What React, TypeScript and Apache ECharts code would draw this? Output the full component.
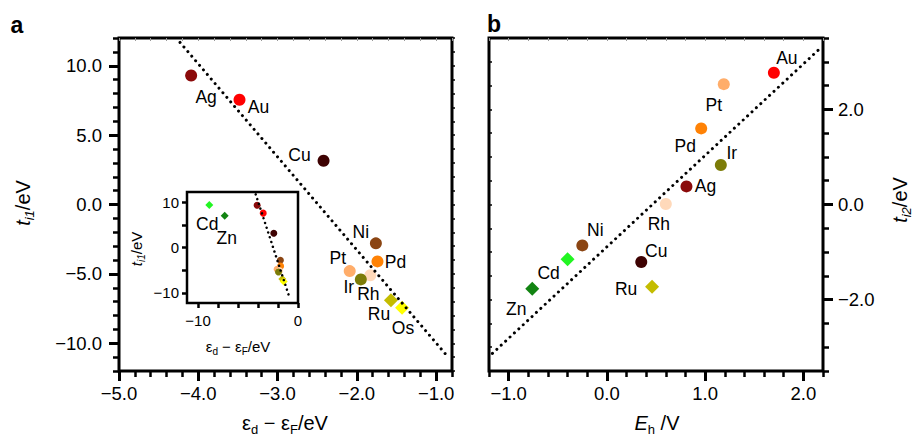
import React, { useEffect, useRef } from 'react';
import * as echarts from 'echarts';

// ---------- data ----------
const ELEMENTS_A = ['Ag', 'Au', 'Cu', 'Ni', 'Pd', 'Pt', 'Rh', 'Ir', 'Ru', 'Os'];
const ED_A = [-4.09, -3.48, -2.42, -1.76, -1.74, -2.09, -1.83, -1.95, -1.57, -1.43];
const T1_A = [9.3, 7.55, 3.15, -2.8, -4.1, -4.8, -5.1, -5.4, -6.9, -7.45];

const ELEMENTS_INSET_EXTRA = ['Cd', 'Zn'];
const ED_INSET_EXTRA = [-8.87, -7.33];
const T1_INSET_EXTRA = [9.35, 7.0];

const FIT_A_X = [-4.23, -0.85];
const FIT_A_Y = [11.68, -10.99];

const ELEMENTS_B = ['Au', 'Pt', 'Pd', 'Ir', 'Ag', 'Rh', 'Ni', 'Cd', 'Zn', 'Cu', 'Ru'];
const EH_B = [1.7, 1.19, 0.96, 1.16, 0.81, 0.6, -0.25, -0.4, -0.76, 0.35, 0.46];
const T2_B = [2.77, 2.53, 1.6, 0.83, 0.38, 0.01, -0.86, -1.15, -1.77, -1.21, -1.73];

const FIT_B_X = [-1.165, 2.175];
const FIT_B_Y = [-3.13, 3.29];

const TICKS_A_X = [-5, -4, -3, -2, -1];
const TICKS_A_Y = [-10, -5, 0, 5, 10];
const TICKS_B_X = [-1, 0, 1, 2];
const TICKS_B_Y = [-2, 0, 2];
const TICKS_INSET_X = [-10, -8, -6, -4, -2, 0];
const LABELS_INSET_X = [-10, 0];
const TICKS_INSET_Y = [-10, -5, 0, 5, 10];
const LABELS_INSET_Y = [-10, 0, 10];

// ---------- styles ----------
const COLORS: Record<string, string> = {
  Ag: '#8B0A0A',
  Au: '#FF0000',
  Cu: '#3E0202',
  Ni: '#8B4513',
  Pd: '#FF8205',
  Pt: '#FFAD6A',
  Rh: '#FFD9BA',
  Ir: '#7C7C08',
  Ru: '#C4BC00',
  Os: '#FFFF00',
  Cd: '#22F522',
  Zn: '#128412',
};
const DIAMONDS = new Set(['Ru', 'Os', 'Cd', 'Zn']);

const LABEL_A: Record<string, [number, number]> = {
  Ag: [15, 22], Au: [19, 7], Cu: [-24, -6], Ni: [-15, -11], Pd: [18, 1],
  Pt: [-12, -13], Ir: [-12, 8], Rh: [-2, 19], Ru: [-12, 14], Os: [1, 20],
};
const LABEL_INSET: Record<string, [number, number]> = { Cd: [-2, 19], Zn: [2, 22] };
const LABEL_B: Record<string, [number, number]> = {
  Au: [13, -15], Pt: [-10, 21], Pd: [-16, 18], Ir: [11, -12], Ag: [19, 0],
  Rh: [-7, 20], Ni: [13, -15], Cd: [-19, 14], Zn: [-16, 20], Cu: [15, -11], Ru: [-26, 2],
};

const FONT = '"Liberation Sans", Arial, Helvetica, sans-serif';
const MINUS = '\u2212';

function steps(a: number, b: number, s: number): number[] {
  const out: number[] = [];
  const n = Math.round((b - a) / s);
  for (let i = 0; i <= n; i++) out.push(Math.round((a + i * s) * 1000) / 1000);
  return out;
}
const fmt1 = (v: number) => (v < 0 ? MINUS : '') + Math.abs(v).toFixed(1);
const fmt0 = (v: number) => (v < 0 ? MINUS : '') + Math.abs(v).toFixed(0);

function axis(o: {
  grid: number; pos: string; min: number; max: number;
  ticks: number[]; len: number; width?: number; color?: string; inside?: boolean;
  labels?: number[]; fmt?: (v: number) => string; fontSize?: number; margin?: number;
}) {
  return {
    type: 'value',
    gridIndex: o.grid,
    position: o.pos,
    min: o.min,
    max: o.max,
    axisLine: { show: false, onZero: false },
    splitLine: { show: false },
    axisTick: {
      show: true,
      customValues: o.ticks,
      length: o.len,
      inside: !!o.inside,
      lineStyle: { color: o.color || '#000', width: o.width || 2.5 },
    },
    axisLabel: o.labels
      ? {
          show: true,
          customValues: o.labels,
          formatter: o.fmt,
          fontSize: o.fontSize || 18.5,
          fontFamily: FONT,
          color: '#000',
          margin: o.margin ?? 13,
        }
      : { show: false },
  };
}

function points(names: string[], xs: number[], ys: number[], offsets: Record<string, [number, number]>, small: boolean) {
  return names.map((n, i) => {
    const dia = DIAMONDS.has(n);
    const off = offsets[n];
    return {
      name: n,
      value: [xs[i], ys[i]],
      symbol: dia ? 'diamond' : 'circle',
      symbolSize: small ? (dia ? 8 : 7) : dia ? 14 : 12,
      itemStyle: { color: COLORS[n], opacity: 1 },
      label: off
        ? {
            show: true,
            position: 'inside',
            offset: off,
            formatter: n,
            fontSize: 17.5,
            fontFamily: FONT,
            color: '#000',
          }
        : { show: false },
    };
  });
}

function nameText(x: number, y: number, text: string, size: number, sub: number, rot = 0) {
  return {
    type: 'text',
    x,
    y,
    rotation: rot,
    z: 100,
    style: {
      text,
      align: 'center',
      verticalAlign: 'middle',
      fontFamily: FONT,
      fontSize: size,
      fill: '#000',
      rich: {
        n: { fontSize: size, fontFamily: FONT, fill: '#000', lineHeight: size + 5, verticalAlign: 'middle' },
        i: { fontSize: size, fontFamily: FONT, fontStyle: 'italic', fill: '#000', lineHeight: size + 5, verticalAlign: 'middle' },
        s: { fontSize: sub, fontFamily: FONT, fill: '#000', lineHeight: sub, verticalAlign: 'bottom' },
        si: { fontSize: sub, fontFamily: FONT, fontStyle: 'italic', fill: '#000', lineHeight: sub, verticalAlign: 'bottom' },
      },
    },
  };
}

export default function App() {
  const ref = useRef<HTMLDivElement>(null);
  useEffect(() => {
    if (!ref.current) return;
    const chart = echarts.init(ref.current, undefined, { renderer: 'svg' });
    const dotted = (w: number, gap: number) => ({ color: '#000', width: w, type: [0.01, gap], cap: 'round', opacity: 1 });

    const option = {
      animation: false,
      backgroundColor: '#fff',
      textStyle: { fontFamily: FONT },
      grid: [
        { left: 119, top: 38, width: 333, height: 333, show: true, borderColor: '#000', borderWidth: 3, backgroundColor: 'transparent', containLabel: false },
        { left: 489, top: 38, width: 334, height: 333, show: true, borderColor: '#000', borderWidth: 3, backgroundColor: 'transparent', containLabel: false },
        { left: 187, top: 192, width: 111, height: 111, show: true, borderColor: '#000', borderWidth: 2.5, backgroundColor: '#fff', containLabel: false, z: 5 },
      ],
      xAxis: [
        axis({ grid: 0, pos: 'bottom', min: -5, max: -0.8, ticks: TICKS_A_X, len: 10, width: 3, labels: TICKS_A_X, fmt: fmt1, margin: 13 }),
        axis({ grid: 0, pos: 'bottom', min: -5, max: -0.8, ticks: steps(-5, -0.8, 0.2), len: 6 }),
        axis({ grid: 0, pos: 'top', min: -5, max: -0.8, ticks: steps(-5, -0.8, 0.2), len: 3, width: 1, color: '#999', inside: true }),
        axis({ grid: 1, pos: 'bottom', min: -1.2, max: 2.2, ticks: TICKS_B_X, len: 10, width: 3, labels: TICKS_B_X, fmt: fmt1, margin: 13 }),
        axis({ grid: 1, pos: 'bottom', min: -1.2, max: 2.2, ticks: steps(-1.2, 2.2, 0.2), len: 6 }),
        axis({ grid: 1, pos: 'top', min: -1.2, max: 2.2, ticks: steps(-1.2, 2.2, 0.2), len: 3, width: 1, color: '#999', inside: true }),
        axis({ grid: 2, pos: 'bottom', min: -11.1, max: 0, ticks: TICKS_INSET_X, len: 5, width: 2.5, labels: LABELS_INSET_X, fmt: fmt0, fontSize: 15, margin: 10 }),
      ],
      yAxis: [
        axis({ grid: 0, pos: 'left', min: -12, max: 12, ticks: TICKS_A_Y, len: 10, width: 3, labels: TICKS_A_Y, fmt: fmt1, margin: 17 }),
        axis({ grid: 0, pos: 'left', min: -12, max: 12, ticks: steps(-12, 12, 1), len: 6 }),
        axis({ grid: 0, pos: 'right', min: -12, max: 12, ticks: steps(-12, 12, 1), len: 3, width: 1.5 }),
        axis({ grid: 1, pos: 'right', min: -3.5, max: 3.5, ticks: TICKS_B_Y, len: 10, width: 3, labels: TICKS_B_Y, fmt: fmt1, margin: 15 }),
        axis({ grid: 1, pos: 'right', min: -3.5, max: 3.5, ticks: steps(-3.5, 3.5, 0.5), len: 6 }),
        axis({ grid: 1, pos: 'left', min: -3.5, max: 3.5, ticks: steps(-3.5, 3.5, 0.5), len: 3, width: 1.5, inside: true }),
        axis({ grid: 2, pos: 'left', min: -12.2, max: 12.2, ticks: TICKS_INSET_Y, len: 5, width: 2.5, labels: LABELS_INSET_Y, fmt: fmt0, fontSize: 15, margin: 8 }),
      ],
      series: [
        {
          type: 'scatter', xAxisIndex: 0, yAxisIndex: 0, z: 3,
          data: points(ELEMENTS_A, ED_A, T1_A, LABEL_A, false),
        },
        {
          type: 'line', xAxisIndex: 0, yAxisIndex: 0, z: 4, symbol: 'none', showSymbol: false,
          data: FIT_A_X.map((x, i) => [x, FIT_A_Y[i]]),
          lineStyle: dotted(3, 6),
        },
        {
          type: 'scatter', xAxisIndex: 6, yAxisIndex: 6, z: 6,
          data: points(
            [...ELEMENTS_A, ...ELEMENTS_INSET_EXTRA],
            [...ED_A, ...ED_INSET_EXTRA],
            [...T1_A, ...T1_INSET_EXTRA],
            LABEL_INSET,
            true,
          ),
        },
        {
          type: 'line', xAxisIndex: 6, yAxisIndex: 6, z: 7, symbol: 'none', showSymbol: false,
          data: FIT_A_X.map((x, i) => [x, FIT_A_Y[i]]),
          lineStyle: dotted(2.5, 5),
        },
        {
          type: 'scatter', xAxisIndex: 3, yAxisIndex: 3, z: 3,
          data: points(ELEMENTS_B, EH_B, T2_B, LABEL_B, false),
        },
        {
          type: 'line', xAxisIndex: 3, yAxisIndex: 3, z: 4, symbol: 'none', showSymbol: false,
          data: FIT_B_X.map((x, i) => [x, FIT_B_Y[i]]),
          lineStyle: dotted(3, 6),
        },
      ],
      graphic: [
        { type: 'text', x: 17, y: 25, z: 100, style: { text: 'a', fontSize: 23, fontWeight: 'bold', fontFamily: FONT, fill: '#000', align: 'center', verticalAlign: 'middle' } },
        { type: 'text', x: 494, y: 24, z: 100, style: { text: 'b', fontSize: 23, fontWeight: 'bold', fontFamily: FONT, fill: '#000', align: 'center', verticalAlign: 'middle' } },
        nameText(23, 203, '{i|t}{si|i1}{n|/eV}', 20, 13, Math.PI / 2),
        nameText(285, 423, '{n|ε}{s|d}{n| − ε}{s|F}{n|/eV}', 20, 13),
        nameText(657, 423, '{i|E}{s|h}{n| /V}', 20, 13),
        nameText(900, 200, '{i|t}{si|i2}{n|/eV}', 20, 13, Math.PI / 2),
        nameText(136, 249, '{i|t}{si|i1}{n|/eV}', 15, 10, Math.PI / 2),
        nameText(238, 346, '{n|ε}{s|d}{n| − ε}{s|F}{n|/eV}', 15, 10),
      ],
    };
    chart.setOption(option as any);
    return () => chart.dispose();
  }, []);
  return (
    <div
      ref={ref}
      style={{ position: 'fixed', left: 0, top: 0, width: 914, height: 437, background: '#fff' }}
    />
  );
}
